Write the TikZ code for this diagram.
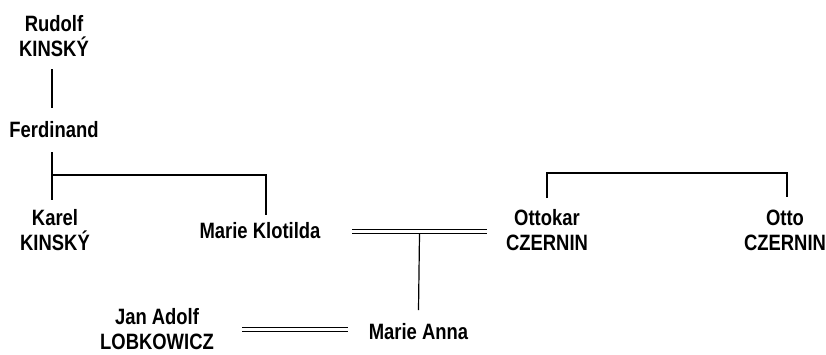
\documentclass[tikz,border=0pt]{standalone}
\usepackage{fontspec}
\setmainfont{Liberation Sans}[FakeStretch=0.83]
\usetikzlibrary{calc}
\begin{document}
\begin{tikzpicture}[x=1pt,y=-1pt,
  person/.style={font=\fontsize{22.2}{25}\selectfont\bfseries, align=center, anchor=base, inner sep=0pt, text depth=0pt},
  link/.style={line width=1.2pt},
  marriage/.style={line width=1.1pt, double, double distance=3.4pt}]
\useasboundingbox[fill=white] (0,0) rectangle (826,354);
% two-line nodes are placed at the baseline of their last line
\node[person] (rudolf)   at (54,56)    {Rudolf\\KINSKÝ};
\node[person] (ferdinand) at (54,137)  {Ferdinand};
\node[person] (karel)    at (55,250)   {Karel\\KINSKÝ};
\node[person] (klotilda) at (260,238)  {Marie Klotilda};
\node[person] (ottokar)  at (547,250)  {Ottokar\\CZERNIN};
\node[person] (otto)     at (785,250)  {Otto\\CZERNIN};
\node[person] (anna)     at (418.5,339) {Marie Anna};
\node[person] (jan)      at (157,349.5)  {Jan Adolf\\LOBKOWICZ};
% descent lines
\draw[link] ($(rudolf.base)+(-2,13)$) -- ($(ferdinand.base)+(-2,-29)$);
\draw[link] ($(ferdinand.base)+(-2,15)$) -- ($(karel.base)+(-3,-50)$);
\draw[link] ($(ferdinand.base)+(-2,38)$) -| ($(klotilda.base)+(6,-23)$);
% marriage Klotilda = Ottokar
\draw[marriage] ($(klotilda.base)+(92,-6.5)$) -- coordinate[midway] (km) ($(ottokar.base)+(-60,-18.5)$);
\draw[link] ($(km)+(0,2.4)$) -- ($(anna.base)+(0,-29)$);
% brothers Ottokar / Otto
\draw[link] ($(ottokar.base)+(0,-52)$) -- ++(0,-25) -| ($(otto.base)+(2,-53)$);
% marriage Jan Adolf = Marie Anna
\draw[marriage] ($(jan.base)+(85,-20)$) -- ($(anna.base)+(-70.5,-9.5)$);
\end{tikzpicture}
\end{document}
